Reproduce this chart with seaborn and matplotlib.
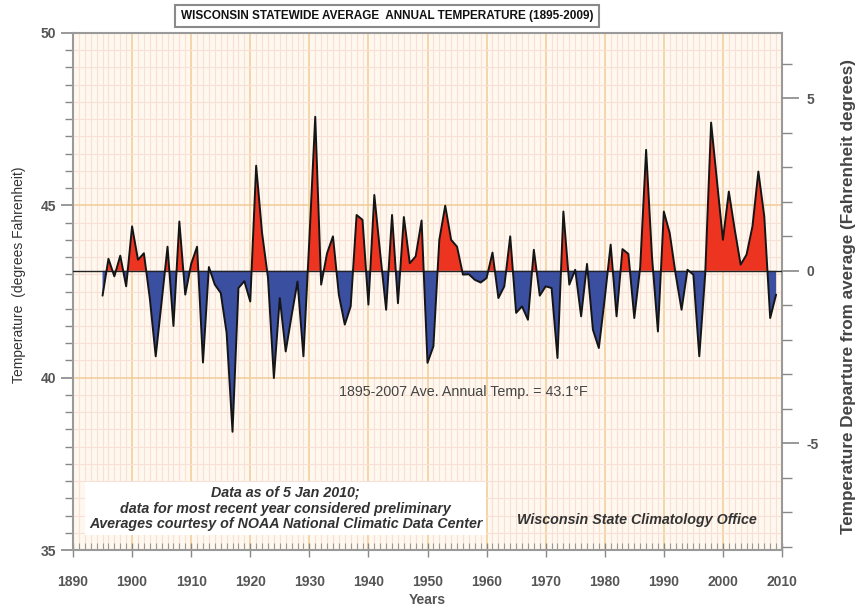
import numpy as np
import pandas as pd
import matplotlib
matplotlib.use("Agg")
import matplotlib.pyplot as plt
import seaborn as sns
from matplotlib.ticker import MultipleLocator

# Annual statewide mean temperature (deg F)
years = list(range(1895, 2010))
temps = [
    42.38, 43.45, 42.94, 43.54, 42.65, 44.39, 43.42, 43.61, 42.30, 40.62,  # 1895-1904
    42.20, 43.80, 41.50, 44.53, 42.41, 43.30, 43.80, 40.44, 43.21, 42.70,  # 1905-1914
    42.46, 41.30, 38.43, 42.60, 42.80, 42.21, 46.15, 44.20, 42.90, 39.99,  # 1915-1924
    42.31, 40.76, 41.80, 42.79, 40.62, 44.00, 47.57, 42.70, 43.61, 44.10,  # 1925-1934
    42.40, 41.54, 42.07, 44.72, 44.58, 42.12, 45.30, 43.60, 41.97, 44.72,  # 1935-1944
    42.16, 44.66, 43.32, 43.52, 44.56, 40.43, 40.91, 44.00, 44.99, 44.00,  # 1945-1954
    43.80, 42.99, 43.00, 42.84, 42.76, 42.89, 43.63, 42.31, 42.65, 44.10,  # 1955-1964
    41.88, 42.07, 41.68, 43.71, 42.38, 42.65, 42.60, 40.57, 44.82, 42.70,  # 1965-1974
    43.13, 41.78, 43.30, 41.39, 40.86, 42.30, 43.86, 41.78, 43.73, 43.59,  # 1975-1984
    41.73, 43.20, 46.61, 43.50, 41.34, 44.82, 44.19, 43.00, 41.97, 43.13,  # 1985-1994
    42.99, 40.62, 43.00, 47.40, 45.70, 44.00, 45.40, 44.30, 43.28, 43.57,  # 1995-2004
    44.39, 45.98, 44.68, 41.73, 42.41,                                      # 2005-2009
]
avg_temp = 43.1

title = "WISCONSIN STATEWIDE AVERAGE  ANNUAL TEMPERATURE (1895-2009)"
note_lines = [
    "Data as of 5 Jan 2010;",
    "data for most recent year considered preliminary",
    "Averages courtesy of NOAA National Climatic Data Center",
]
credit = "Wisconsin State Climatology Office"
avg_label = "1895-2007 Ave. Annual Temp. = 43.1°F"

df = pd.DataFrame({"year": years, "temp": temps})

sns.set_theme(style="white")
plt.rcParams["font.family"] = ["Liberation Sans", "DejaVu Sans"]
plt.rcParams["axes.unicode_minus"] = False

W, H = 859, 607
fig = plt.figure(figsize=(W / 100, H / 100), dpi=100)
fig.patch.set_facecolor("white")

# axes box in pixels: left 73, right 782, top 33, bottom 550
ax = fig.add_axes([73 / W, 1 - 550 / H, (782 - 73) / W, (550 - 33) / H])
ax.set_facecolor("#FFF8EE")

ax.set_xlim(1890, 2010)
ax.set_ylim(35, 50)

# grid: minor every year / half degree, major every 10 years / 5 degrees
ax.xaxis.set_major_locator(MultipleLocator(10))
ax.xaxis.set_minor_locator(MultipleLocator(1))
ax.yaxis.set_major_locator(MultipleLocator(5))
ax.yaxis.set_minor_locator(MultipleLocator(0.5))
ax.grid(which="minor", color="#F9E0D6", lw=0.8)
ax.grid(which="major", color="#F2CB98", lw=1.1)
ax.set_axisbelow(True)

y = df["temp"].to_numpy()
x = df["year"].to_numpy()
ax.fill_between(x, y, avg_temp, where=y >= avg_temp, interpolate=True,
                color="#EC3420", lw=0, zorder=2)
ax.fill_between(x, y, avg_temp, where=y <= avg_temp, interpolate=True,
                color="#3B4FA1", lw=0, zorder=2)
ax.axhline(avg_temp, color="#222222", lw=1.0, zorder=3)
sns.lineplot(data=df, x="year", y="temp", ax=ax, color="#151515", lw=1.4,
             zorder=4)

for s in ax.spines.values():
    s.set_color("#9a9a9a")
    s.set_linewidth(1.5)

ax.tick_params(axis="y", which="major", direction="out", length=9, width=1.2,
               color="#888888", left=True, right=False, pad=3)
ax.tick_params(axis="y", which="minor", direction="out", length=6, width=1.0,
               color="#888888", left=True, right=False)
ax.tick_params(axis="x", which="major", direction="inout", length=10, width=1.0,
               color="#888888", bottom=True, top=False, pad=13)
ax.tick_params(axis="x", which="minor", direction="in", length=5, width=0.8,
               color="#999999", bottom=True, top=False)
for lab in ax.get_xticklabels() + ax.get_yticklabels():
    lab.set_fontsize(10)
    lab.set_fontweight("bold")
    lab.set_color("#555555")

ax.set_xlabel("Years", fontsize=10, fontweight="bold", color="#555555", labelpad=3)
ax.set_ylabel("Temperature  (degrees Fahrenheit)", fontsize=10, color="#333333")
ax.yaxis.set_label_coords(-47 / 709, 0.532)

# departure axis on the right
ax2 = ax.twinx()
ax2.set_ylim(35 - avg_temp, 50 - avg_temp)
ax2.yaxis.set_major_locator(MultipleLocator(5))
ax2.yaxis.set_minor_locator(MultipleLocator(1))
ax2.tick_params(axis="y", which="major", direction="out", length=12, width=1.2,
                color="#888888", pad=6)
ax2.tick_params(axis="y", which="minor", direction="out", length=7, width=1.0,
                color="#888888")
for lab in ax2.get_yticklabels():
    lab.set_fontsize(10)
    lab.set_fontweight("bold")
    lab.set_color("#555555")
ax2.grid(False)
for s in ax2.spines.values():
    s.set_visible(False)
ax2.set_ylabel("Temperature Departure from average (Fahrenheit degrees)",
               fontsize=12.3, fontweight="bold", color="#444444")
ax2.yaxis.set_label_coords((841 - 73) / 709, 0.49)

# text annotations
ax.text(1956, 39.57, avg_label, fontsize=10.3, color="#444444",
        ha="center", va="center", zorder=5)
ax.text(1926, 36.2, "\n".join(note_lines), fontsize=10.3, fontweight="bold",
        fontstyle="italic", color="#333333", ha="center", va="center",
        linespacing=1.15, zorder=5,
        bbox=dict(boxstyle="square,pad=0.25", fc="white", ec="none"))
ax.text(1985.5, 35.86, credit, fontsize=10.3, fontweight="bold", fontstyle="italic",
        color="#333333", ha="center", va="center", zorder=5)

fig.text(387 / W, 1 - 16 / H, title, fontsize=8.5, fontweight="bold",
         color="#111111", ha="center", va="center",
         bbox=dict(boxstyle="square,pad=0.45", fc="white", ec="#8a8a8a", lw=1.5))

fig.savefig("out.png", dpi=100, facecolor="white")
